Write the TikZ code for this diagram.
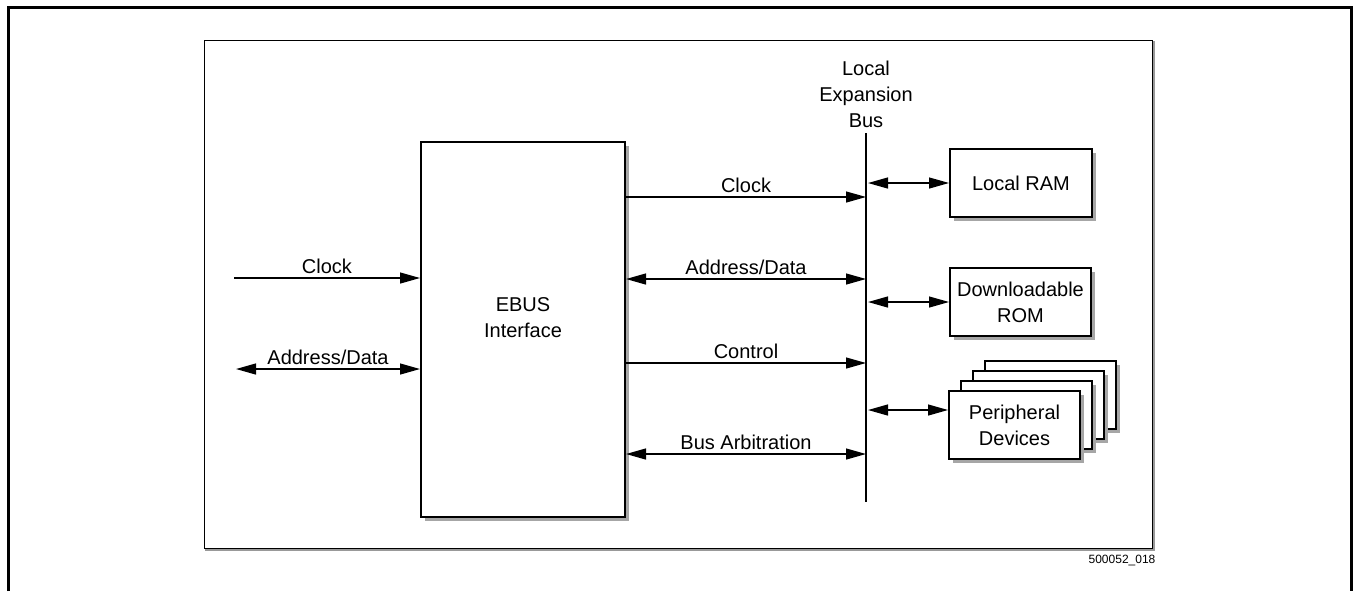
\documentclass[tikz,border=0pt]{standalone}
\usepackage{fontspec}
\setmainfont{Liberation Sans}
\usetikzlibrary{arrows.meta,shadows,positioning}

\tikzset{
  blk/.style={draw, line width=1pt, fill=white, align=center, inner sep=0pt,
    drop shadow={shadow xshift=2pt, shadow yshift=-2pt, fill=black!35, opacity=1}},
  sig/.style={line width=0.65pt, >={Triangle[length=10pt,width=5.5pt]}},
  lbl/.style={above, inner sep=2pt}
}

\begin{document}
\begin{tikzpicture}[x=0.5pt, y=-0.5pt, font=\fontsize{10}{13}\selectfont]
  \useasboundingbox (0,0) rectangle (1353,591);

  % frames
  \draw[line width=1.5pt] (8,591) -- (8,7) -- (1351,7) -- (1351,591);
  \draw[line width=0.6pt, black!40] (206,42) rectangle (1154,550);
  \draw[line width=0.5pt, fill=white] (204,40) rectangle (1152,548);

  % interface block
  \node[blk, minimum width=102pt, minimum height=187.5pt] (ebus) at (523,329.5) {};
  \node[align=center] (ebuslbl) at (523,318) {EBUS\\Interface};

  % expansion bus
  \node[align=center] (buslbl) at (866,94) {Local\\Expansion\\Bus};
  \coordinate (bustop) at (866,133);
  \coordinate (busbot) at (866,502);
  \draw[line width=0.6pt] (bustop) -- (busbot);

  % devices
  \node[blk, minimum width=71pt, minimum height=34pt] (ram) at (1021,183) {Local RAM};
  \node[blk, minimum width=70.5pt, minimum height=34pt] (rom) at (1020.5,302) {Downloadable\\ROM};
  \foreach \i in {3,2,1} {
    \node[blk, minimum width=65.5pt, minimum height=34pt] (per\i) at (1014.5+12*\i,425-10*\i) {};
  }
  \node[blk, minimum width=65.5pt, minimum height=34pt] (per0) at (1014.5,425) {Peripheral\\Devices};

  % host side
  \coordinate (clkin) at (234,278);
  \coordinate (adin) at (236,369);
  \draw[sig,->] (clkin) -- (ebus.west |- clkin) node[lbl, midway] {Clock};
  \draw[sig,<->] (adin) -- (ebus.west |- adin) node[lbl, midway] {Address/Data};

  % bus side
  \draw[sig,->] (ebus.east |- 0,197) -- (bustop |- 0,197) node[lbl, midway] {Clock};
  \draw[sig,<->] (ebus.east |- 0,279) -- (bustop |- 0,279) node[lbl, midway] {Address/Data};
  \draw[sig,->] (ebus.east |- 0,363) -- (bustop |- 0,363) node[lbl, midway] {Control};
  \draw[sig,<->] (ebus.east |- 0,454) -- (bustop |- 0,454) node[lbl, midway] {Bus Arbitration};

  \draw[sig,<->] ([xshift=1pt]bustop |- ram.west) -- (ram.west);
  \draw[sig,<->] ([xshift=1pt]bustop |- rom.west) -- (rom.west);
  \draw[sig,<->] ([xshift=1pt,yshift=7.5pt]bustop |- per0.west) -- ([yshift=7.5pt]per0.west);

  \node[font=\fontsize{6}{7}\selectfont] (fignum) at (1122,560) {500052\_018};
\end{tikzpicture}
\end{document}
